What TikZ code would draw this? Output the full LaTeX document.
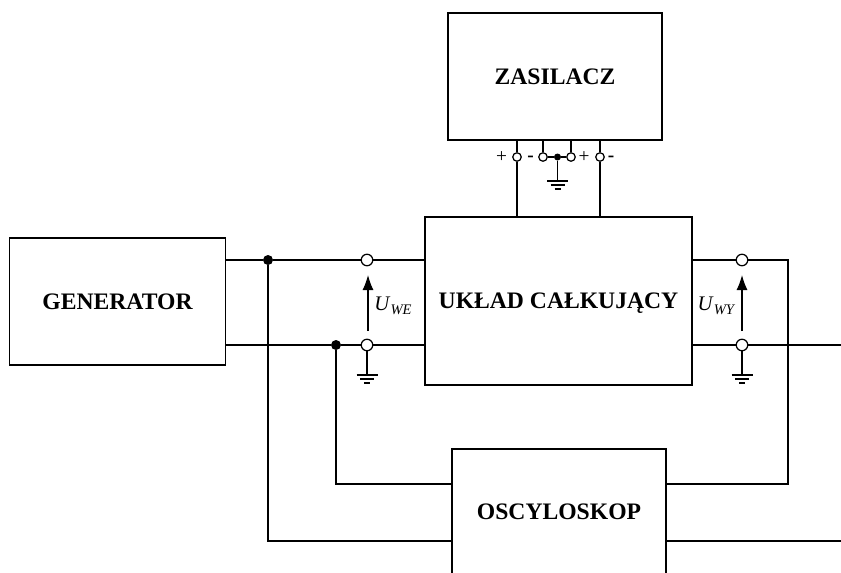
\documentclass[tikz,border=0pt]{standalone}
\usepackage{fontspec}
\setmainfont{Liberation Serif}
\usetikzlibrary{arrows.meta, positioning}
\newcommand{\uvolt}[1]{\textit{U}\raisebox{-0.4ex}{\fontsize{8.3}{9}\selectfont\textit{#1}}}
\tikzset{
  block/.style={
    draw,
    line width=0.7pt,
    align=center,
    inner sep=0pt,
    text height=9pt,
    text depth=0pt,
    font=\fontsize{13.45}{15}\selectfont\bfseries
  },
  wire/.style={line width=0.7pt},
  voltarrow/.style={-{Latex[length=3mm, width=2.2mm]}, line width=0.7pt},
  term/.style={circle, draw, line width=0.7pt, fill=white, minimum size=2.3mm, inner sep=0pt},
  smallterm/.style={term, minimum size=1.7mm},
  junction/.style={circle, fill=black, minimum size=2mm, inner sep=0pt},
  smalljunction/.style={junction, minimum size=1.4mm},
  polarity/.style={inner sep=0pt, font=\fontsize{11}{12}\selectfont},
  voltlabel/.style={inner sep=0pt, font=\fontsize{11.8}{13}\selectfont},
  pics/ground/.style={code={
    \draw[wire] (-10.5,0) -- (10.5,0);
    \draw[wire] (-7,4) -- (7,4);
    \draw[wire] (-3,8) -- (3,8);
  }}
}
\begin{document}
\begin{tikzpicture}[x=0.02cm, y=-0.02cm]
        \useasboundingbox (0,0) rectangle (841,572);
        % blocks
        \node[block, minimum width=42.8mm, minimum height=25.4mm] (zasilacz) at (555,76.5) {ZASILACZ};
        \node[block, minimum width=43.2mm, minimum height=25.4mm] (generator) at (117.5,301.5) {GENERATOR};
        \node[block, minimum width=53.4mm, minimum height=33.6mm] (uklad) at (558.5,301) {UKŁAD CAŁKUJĄCY};
        \node[block, minimum width=42.8mm, minimum height=25.2mm] (oscyloskop) at (559,512) {OSCYLOSKOP};

        % terminals
        \node[term] (wetop) at (367,260) {};
        \node[term] (webot) at (367,345) {};
        \node[term] (wytop) at (742,260) {};
        \node[term] (wybot) at (742,345) {};
        \node[junction] (gentop) at (268,260) {};
        \node[junction] (genbot) at (336,345) {};

        \node[smallterm] (plusa) at (517,157) {};
        \node[smallterm] (minusa) at (543,157) {};
        \node[smalljunction] (mid) at (557.5,157) {};
        \node[smallterm] (plusb) at (571,157) {};
        \node[smallterm] (minusb) at (600,157) {};

        \node[polarity] at (501.5,157.5) {+};
        \node[polarity] at (530.5,159) {\textbf{-}};
        \node[polarity] at (584,157.5) {+};
        \node[polarity] at (611,159) {\textbf{-}};

        \coordinate (wecorner) at (336,484);
        \coordinate (gencorner) at (268,541);
        \coordinate (wyturn) at (788,260);
        \coordinate (wycorner) at (788,484);
        \coordinate (outa) at (841,345);
        \coordinate (outb) at (841,541);

        % input and output lines
        \draw[wire] (generator.east |- gentop) -- (gentop) -- (wetop) -- (uklad.west |- wetop);
        \draw[wire] (generator.east |- genbot) -- (genbot) -- (webot) -- (uklad.west |- webot);
        \draw[wire] (gentop) -- (gencorner) -- (oscyloskop.west |- gencorner);
        \draw[wire] (genbot) -- (wecorner) -- (oscyloskop.west |- wecorner);
        \draw[wire] (uklad.east |- wytop) -- (wytop) -- (wyturn) -- (wycorner) -- (oscyloskop.east |- wycorner);
        \draw[wire] (uklad.east |- wybot) -- (wybot) -- (outa);
        \draw[wire] (oscyloskop.east |- outb) -- (outb);

        % supply lines
        \draw[wire] (plusa |- zasilacz.south) -- (plusa) -- (plusa |- uklad.north);
        \draw[wire] (minusb |- zasilacz.south) -- (minusb) -- (minusb |- uklad.north);
        \draw[wire] (minusa |- zasilacz.south) -- (minusa) -- (mid) -- (plusb) -- (plusb |- zasilacz.south);

        % grounds
        \coordinate (gndmid) at (557.5,181);
        \coordinate (gndwe) at (367,375);
        \coordinate (gndwy) at (742,375);
        \draw[wire] (mid) -- (gndmid);
        \draw[wire] (webot) -- (gndwe);
        \draw[wire] (wybot) -- (gndwy);
        \pic at (gndmid) {ground};
        \pic at (gndwe) {ground};
        \pic at (gndwy) {ground};

        % voltages
        \coordinate (wefrom) at (368,331);
        \coordinate (weto) at (368,275);
        \coordinate (wyfrom) at (742,331);
        \coordinate (wyto) at (742,275);
        \draw[voltarrow] (wefrom) -- (weto);
        \draw[voltarrow] (wyfrom) -- (wyto);
        \node[voltlabel] (uwe) at (393,306) {\uvolt{WE}};
        \node[voltlabel] (uwy) at (716.5,306) {\uvolt{WY}};
\end{tikzpicture}
\end{document}
